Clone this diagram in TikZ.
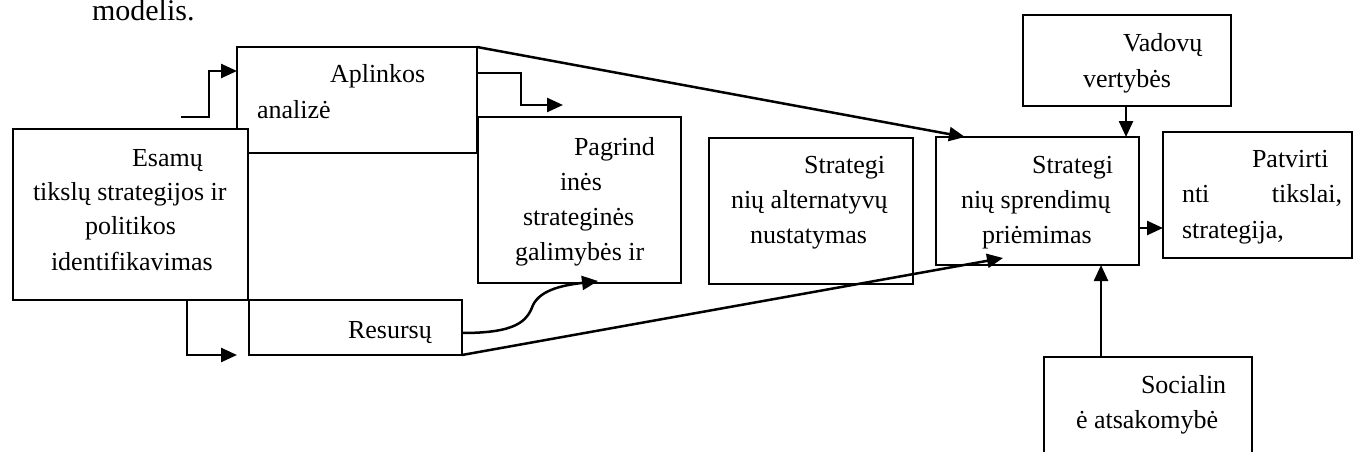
\documentclass[tikz,border=0pt]{standalone}
\usepackage{fontspec}
\setmainfont{Liberation Serif}
\usetikzlibrary{arrows.meta}
\begin{document}
\begin{tikzpicture}[x=1pt,y=-1pt,
  box/.style={draw, line width=2.5pt, fill=white, rectangle, inner sep=0pt, outer sep=0pt, anchor=north west},
  txt/.style={inner sep=0pt, outer sep=0pt, anchor=base west, font=\fontsize{26}{30}\selectfont},
  txtr/.style={txt, anchor=base east},
  conn/.style={line width=2.5pt, -{Triangle[length=16pt,width=14pt]}}]
\clip (0,0) rectangle (1356,452);
\fill[white] (0,0) rectangle (1356,452);
% title
\node[txt, font=\fontsize{30}{34}\selectfont] (title) at (92,21) {modelis.};
% boxes
\node[box, minimum width=240pt, minimum height=106pt] (apl) at (237,47) {};
\node[box, minimum width=203pt, minimum height=166pt] (pag) at (478,117) {};
\node[box, minimum width=235pt, minimum height=171pt] (esa) at (13,129) {};
\node[box, minimum width=213pt, minimum height=55pt] (res) at (249,300) {};
\node[box, minimum width=204pt, minimum height=146pt] (alt) at (709,138) {};
\node[box, minimum width=203pt, minimum height=128pt] (sp) at (936,137) {};
\node[box, minimum width=208pt, minimum height=91pt] (vad) at (1023,15) {};
\node[box, minimum width=189pt, minimum height=126pt] (pat) at (1163,132) {};
\node[box, minimum width=208pt, minimum height=120pt] (soc) at (1044,357) {};
% texts
\node[txt] (t1) at (132,166) {Esamų};
\node[txt] (t2) at (33,200) {tikslų strategijos ir};
\node[txt] (t3) at (85,234) {politikos};
\node[txt] (t4) at (51,270) {identifikavimas};
\node[txt] (t5) at (330,82) {Aplinkos};
\node[txt] (t6) at (257,118) {analizė};
\node[txt] (t7) at (574,155) {Pagrind};
\node[txt] (t8) at (560,190) {inės};
\node[txt] (t9) at (523,225) {strateginės};
\node[txt] (t10) at (515,260) {galimybės ir};
\node[txt] (t11) at (348,338) {Resursų};
\node[txtr] (t12) at (885,173) {Strategi};
\node[txt] (t13) at (731,208) {nių alternatyvų};
\node[txt] (t14) at (750,243) {nustatymas};
\node[txtr] (t15) at (1113,173) {Strategi};
\node[txt] (t16) at (961,208) {nių sprendimų};
\node[txt] (t17) at (982,243) {priėmimas};
\node[txt] (t18) at (1123,52) {Vadovų};
\node[txt] (t19) at (1083,87) {vertybės};
\node[txt] (t20) at (1252,167) {Patvirti};
\node[txt] (t21) at (1182,202) {nti};
\node[txtr] (t22) at (1342,202) {tikslai,};
\node[txt] (t23) at (1182,238) {strategija,};
\node[txt] (t24) at (1141,393) {Socialin};
\node[txt] (t25) at (1076,428) {ė atsakomybė};
% connectors
\coordinate (in1) at (181,117);
\draw[conn] (in1) -- (209,117) |- (apl.west |- 0,71);
\draw[conn] ([xshift=174pt]esa.south west) |- ([xshift=-12pt]res.south west);
\coordinate (e1) at (563,105);
\draw[conn] (apl.east |- 0,73) -- (521,73) |- (e1);
\draw[conn] (apl.north east) -- ([xshift=29pt]sp.north west);
\draw[conn] (res.east |- 0,333) .. controls (515,333) and (527,322) .. (533,305) .. controls (541,289) and (565,285) .. ([xshift=120pt,yshift=2pt]pag.south west);
\draw[conn] (res.south east) -- ([xshift=67pt,yshift=7pt]sp.south west);
\draw[conn] ([xshift=-1pt]vad.south) -- ([xshift=-1pt]vad.south |- sp.north);
\draw[conn] (sp.east |- 0,228) -- (pat.west |- 0,228);
\draw[conn] ([xshift=57pt]soc.north west) -- ([xshift=57pt]soc.north west |- sp.south);
\end{tikzpicture}
\end{document}
